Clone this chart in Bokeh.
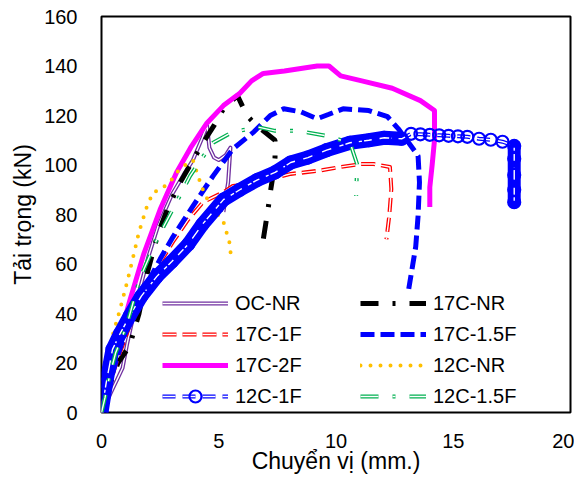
from bokeh.plotting import figure
from bokeh.models import Legend, LegendItem, FixedTicker, Range1d
from bokeh.embed import file_html
from bokeh.resources import INLINE

x_ticks = [0, 5, 10, 15, 20]
y_ticks = [0, 20, 40, 60, 80, 100, 120, 140, 160]

oc_nr_x = [0, 0.15, 0.3, 0.5, 0.7, 0.9, 1.1, 1.5, 2.0, 2.4, 3.0, 3.5, 3.9, 4.3, 4.5, 4.6, 4.8, 5.0, 5.3, 5.5, 5.45, 5.4, 5.3, 5.2]
oc_nr_y = [0, 3, 6, 10, 14, 18, 28, 45, 63, 75, 88, 96, 102, 111, 116, 107, 103, 102, 104, 107, 100, 93, 87, 81]

c17_nr_x = [0, 0.3, 0.7, 1.2, 1.6, 1.97, 2.4, 2.8, 3.3, 3.9, 4.4, 4.8, 5.2, 5.5, 5.8, 6.0, 6.2, 6.6, 7.0, 7.4, 7.4, 7.3, 7.2, 7.1, 7.0, 6.9]
c17_nr_y = [0, 10, 20, 27, 40, 57, 72, 82, 92, 102, 110, 116, 122.7, 125.5, 128, 124, 120, 116, 113, 110, 103, 95, 89, 82, 76, 70]

c17_1f_x = [0, 0.3, 0.7, 1.2, 1.8, 2.4, 3.05, 3.7, 4.33, 5.2, 5.6, 6.4, 7.2, 8.07, 9.2, 10.2, 11.07, 11.6, 12.3, 12.36, 12.27, 12.15]
c17_1f_y = [0, 10, 22, 35, 48, 59, 69, 78, 85, 89, 91.5, 92.5, 94.4, 96.4, 97.6, 99.2, 100.4, 100.4, 99.2, 90.3, 79.4, 70]

c17_15f_x = [0, 0.3, 0.6, 1.0, 1.5, 2.0, 2.5, 3.05, 3.9, 4.76, 5.6, 6.5, 7.2, 7.77, 8.5, 9.2, 9.7, 10.3, 11.4, 12.2, 12.66, 13.1, 13.5, 13.56, 13.5, 13.4, 13.1]
c17_15f_y = [0, 10, 20, 32, 43, 53, 62, 71, 83.4, 95.6, 106.5, 113.4, 120, 122.7, 121.5, 118.7, 120.5, 122.7, 122, 119.5, 114.6, 109, 103.7, 93, 79.4, 67, 49.8]

c17_2f_x = [0, 0.3, 0.7, 1.2, 1.8, 2.5, 3.2, 3.8, 4.5, 5.2, 5.9, 6.4, 6.9, 7.8, 8.5, 9.2, 9.7, 10.2, 11.1, 12.4, 13.6, 14.2, 14.2, 14.1, 14.0, 14.0]
c17_2f_y = [0, 12, 28, 45, 64, 82, 97, 107, 117, 124, 129, 134, 137, 138, 139, 140, 140, 136, 134, 131, 126, 122, 110, 100, 91, 83]

c12_nr_x = [0, 0.2, 0.47, 0.8, 1.1, 1.33, 1.6, 1.93, 2.2, 2.5, 2.9, 3.3, 3.7, 3.9, 4.1, 4.4, 4.8, 5.2, 5.45, 5.55]
c12_nr_y = [0, 15, 31, 42, 53, 62, 73, 83, 89, 90, 93, 98, 101, 102, 96, 88, 82, 77, 69, 61]

c12_1f_x = [0, 0.2, 0.47, 0.8, 1.2, 1.7, 2.36, 3.0, 3.7, 4.3, 5.2, 5.9, 6.65, 7.4, 8.07, 8.8, 9.6, 10.6, 11.4, 12.06, 12.8,
            13.2, 13.6, 14.0, 14.4, 14.8, 15.2, 15.6, 16.1, 16.6, 17.1, 17.6, 17.6, 17.6, 17.6, 17.6]
c12_1f_y = [0, 12, 25.5, 32, 39, 47, 55, 61, 68, 76, 86, 90, 94, 97, 101, 103, 106, 109, 110, 111, 110.6,
            112.6, 112.4, 112.2, 112, 111.8, 111.6, 111.4, 110.6, 110.2, 109.4, 107.7, 102.5, 96, 90, 85]

c12_15f_x = [0, 0.15, 0.34, 0.6, 1.07, 1.63, 2.36, 3.2, 3.78, 4.3, 4.76, 5.6, 6.35, 6.65, 7.4, 8.4, 9.57, 10.6, 10.9, 10.86]
c12_15f_y = [0, 6, 14.6, 24, 35, 54, 70, 85, 95.6, 103, 109, 113.4, 114.6, 115.4, 113.8, 113.8, 111.8, 109, 100.4, 87.5]

FONT = "Liberation Sans"

p = figure(width=574, height=476, output_backend="svg", toolbar_location=None,
           x_range=Range1d(0, 20), y_range=Range1d(0, 160),
           min_border_left=101, min_border_right=4, min_border_top=16, min_border_bottom=50)
p.grid.visible = False
p.outline_line_color = "black"
p.outline_line_width = 2
p.background_fill_color = "white"
p.border_fill_color = "white"

for ax in (p.xaxis, p.yaxis):
    ax.axis_line_color = None
    ax.major_tick_line_color = None
    ax.minor_tick_line_color = None
    ax.major_label_text_font = FONT
    ax.major_label_text_font_size = "20px"
    ax.major_label_text_color = "black"
    ax.axis_label_text_font = FONT
    ax.axis_label_text_font_size = "23px"
    ax.axis_label_text_font_style = "normal"
    ax.axis_label_text_color = "black"
p.xaxis.ticker = FixedTicker(ticks=x_ticks)
p.yaxis.ticker = FixedTicker(ticks=y_ticks)
p.xaxis.major_label_standoff = 15
p.yaxis.major_label_standoff = 18
p.xaxis.axis_label_standoff = -3
p.yaxis.axis_label_standoff = 5
p.xaxis.axis_label = "Chuyển vị (mm.)"
p.yaxis.axis_label = "Tải trọng (kN)"

def hollow(x, y, color, w, dash="solid"):
    a = p.line(x, y, line_color=color, line_width=w, line_dash=dash, line_join="round")
    b = p.line(x, y, line_color="white", line_width=max(w - 2.6, 1), line_dash=dash, line_join="round")
    return [a, b]

r_oc = hollow(oc_nr_x, oc_nr_y, "#7030A0", 4)
r_17nr = [p.line(c17_nr_x, c17_nr_y, line_color="black", line_width=5, line_dash="18 14 3 14")]
r_17_1f = hollow(c17_1f_x, c17_1f_y, "#FF0000", 4, "14 6")
r_17_15f = [p.line(c17_15f_x, c17_15f_y, line_color="#0000FF", line_width=5, line_dash="14 6")]
r_17_2f = [p.line(c17_2f_x, c17_2f_y, line_color="#FF00FF", line_width=5, line_join="round")]
r_12nr = [p.line(c12_nr_x, c12_nr_y, line_color="#FFC000", line_width=4, line_dash="0 10", line_cap="round")]

# dense-marker portions of 12C-1F drawn as a thick band
p.line(c12_1f_x[:21], c12_1f_y[:21], line_color="#0000FF", line_width=14, line_cap="round", line_join="round")
p.line(c12_1f_x[31:], c12_1f_y[31:], line_color="#0000FF", line_width=13, line_cap="round", line_join="round")
r_12_1f = hollow(c12_1f_x, c12_1f_y, "#0000FF", 4, "13 7")
r_12_1f.append(p.scatter(c12_1f_x, c12_1f_y, marker="circle", size=12, line_color="#0000FF",
                         line_width=2.2, fill_alpha=0))
r_12_15f = hollow(c12_15f_x, c12_15f_y, "#00B050", 4, "18 14 3 14")

def make_legend(items, x):
    leg = Legend(items=[LegendItem(label=l, renderers=r) for l, r in items], location=(x, 1),
                 border_line_alpha=0, background_fill_alpha=0, padding=0, margin=0, spacing=1,
                 glyph_width=66, glyph_height=30, label_height=30, label_standoff=7,
                 label_text_font=FONT, label_text_font_size="20px", label_text_color="black")
    p.add_layout(leg, "center")

make_legend([("OC-NR", r_oc), ("17C-1F", r_17_1f), ("17C-2F", r_17_2f), ("12C-1F", r_12_1f)], 61)
make_legend([("17C-NR", r_17nr), ("17C-1.5F", r_17_15f), ("12C-NR", r_12nr), ("12C-1.5F", r_12_15f)], 259)

open("out.html", "w").write(file_html(p, INLINE))
